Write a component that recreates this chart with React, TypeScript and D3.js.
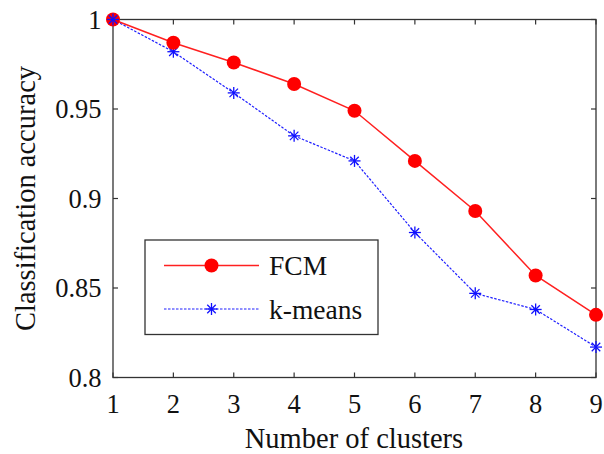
import React from "react";
import * as d3 from "d3";

const clusters = [1, 2, 3, 4, 5, 6, 7, 8, 9];
const fcmAccuracy = [1.0, 0.987, 0.976, 0.964, 0.949, 0.921, 0.893, 0.857, 0.835];
const kmeansAccuracy = [1.0, 0.982, 0.959, 0.935, 0.921, 0.881, 0.847, 0.838, 0.817];
const yTicks = [0.8, 0.85, 0.9, 0.95, 1];
const yTickLabels = ["0.8", "0.85", "0.9", "0.95", "1"];
const seriesNames = ["FCM", "k-means"];

const W = 604;
const H = 454;
const M = { left: 113, right: 596, top: 19.5, bottom: 377.5 };
const FONT = "'Liberation Serif', 'Times New Roman', serif";

function Star({ x, y, r, color }: { x: number; y: number; r: number; color: string }) {
  const d = r * Math.SQRT1_2;
  return (
    <g stroke={color} strokeWidth={1.3}>
      <line x1={x - r} y1={y} x2={x + r} y2={y} />
      <line x1={x} y1={y - r} x2={x} y2={y + r} />
      <line x1={x - d} y1={y - d} x2={x + d} y2={y + d} />
      <line x1={x - d} y1={y + d} x2={x + d} y2={y - d} />
    </g>
  );
}

export default function App() {
  const x = d3.scaleLinear().domain([1, 9]).range([M.left, M.right]);
  const y = d3.scaleLinear().domain([0.8, 1]).range([M.bottom, M.top]);
  const line = d3
    .line<number>()
    .x((_, i) => x(clusters[i]))
    .y((v) => y(v));

  const axisColor = "#333";
  const tickLen = 5;

  return (
    <svg
      width={W}
      height={H}
      style={{ position: "absolute", left: 0, top: 0, background: "#fff" }}
      fontFamily={FONT}
    >
      {/* frame */}
      <rect
        x={M.left}
        y={M.top}
        width={M.right - M.left}
        height={M.bottom - M.top}
        fill="none"
        stroke={axisColor}
        strokeWidth={1.3}
      />
      {/* x ticks */}
      {clusters.map((c) => (
        <g key={"xt" + c}>
          <line x1={x(c)} x2={x(c)} y1={M.bottom} y2={M.bottom - tickLen} stroke={axisColor} strokeWidth={1.2} />
          <line x1={x(c)} x2={x(c)} y1={M.top} y2={M.top + tickLen} stroke={axisColor} strokeWidth={1.2} />
          <text x={x(c)} y={413} textAnchor="middle" fontSize={26.5} fill="#111">
            {c}
          </text>
        </g>
      ))}
      {/* y ticks */}
      {yTicks.map((t, i) => (
        <g key={"yt" + t}>
          <line x1={M.left} x2={M.left + tickLen} y1={y(t)} y2={y(t)} stroke={axisColor} strokeWidth={1.2} />
          <line x1={M.right} x2={M.right - tickLen} y1={y(t)} y2={y(t)} stroke={axisColor} strokeWidth={1.2} />
          <text x={101.5} y={y(t)} dy="0.35em" textAnchor="end" fontSize={26.5} fill="#111">
            {yTickLabels[i]}
          </text>
        </g>
      ))}
      {/* axis titles */}
      <text x={354} y={448} textAnchor="middle" fontSize={28.5} fill="#111">
        Number of clusters
      </text>
      <text
        transform={`translate(35, ${(M.top + M.bottom) / 2}) rotate(-90)`}
        textAnchor="middle"
        fontSize={28.5}
        fill="#111"
      >
        Classification accuracy
      </text>

      {/* k-means series */}
      <path d={line(kmeansAccuracy) || ""} fill="none" stroke="#1f1fff" strokeWidth={1.2} strokeDasharray="2.5,1.5" />
      {kmeansAccuracy.map((v, i) => (
        <Star key={"km" + i} x={x(clusters[i])} y={y(v)} r={6} color="#1010ff" />
      ))}

      {/* FCM series */}
      <path d={line(fcmAccuracy) || ""} fill="none" stroke="#ff2020" strokeWidth={1.5} />
      {fcmAccuracy.map((v, i) => (
        <circle key={"fc" + i} cx={x(clusters[i])} cy={y(v)} r={7} fill="#ff0000" />
      ))}
      {/* first star drawn again so it sits over the circle */}
      <Star x={x(clusters[0])} y={y(kmeansAccuracy[0])} r={6} color="#1010ff" />

      {/* legend */}
      <rect x={145} y={240} width={233} height={94.5} fill="#fff" stroke={axisColor} strokeWidth={1.3} />
      <line x1={164} x2={259} y1={265.5} y2={265.5} stroke="#ff2020" strokeWidth={1.5} />
      <circle cx={211.5} cy={265.5} r={7} fill="#ff0000" />
      <text x={269} y={265.5} dy="0.35em" fontSize={27.5} fill="#111">
        {seriesNames[0]}
      </text>
      <line x1={164} x2={259} y1={309} y2={309} stroke="#1f1fff" strokeWidth={1.2} strokeDasharray="2.5,1.5" />
      <Star x={211.5} y={309} r={6} color="#1010ff" />
      <text x={269} y={309} dy="0.35em" fontSize={27.5} fill="#111">
        {seriesNames[1]}
      </text>
    </svg>
  );
}
